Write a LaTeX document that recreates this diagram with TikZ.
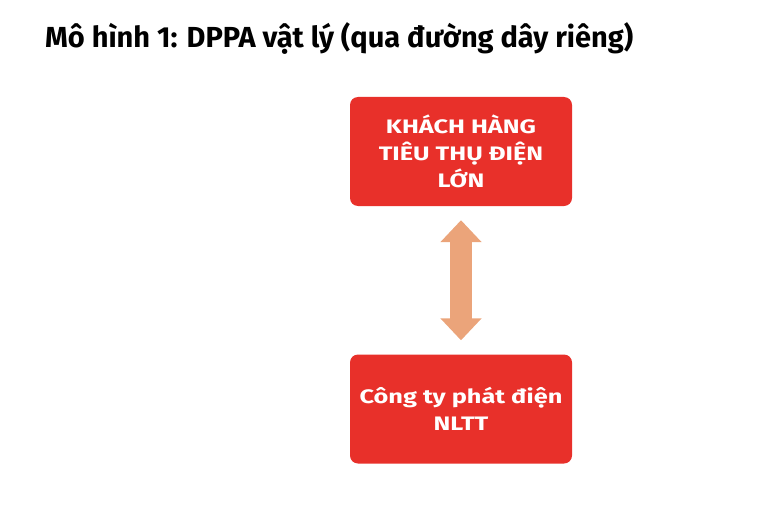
\documentclass[tikz,border=0pt]{standalone}
\usepackage{fontspec}
\setmainfont{Fira Sans}
\newfontfamily\boxfont[FakeStretch=1.3]{Fira Sans}
\usetikzlibrary{arrows.meta}
\definecolor{boxred}{HTML}{E8302A}
\definecolor{arrowpeach}{HTML}{EBA47A}
\tikzset{
  redbox/.style={draw=none, fill=boxred, rounded corners=8pt, minimum width=222pt, minimum height=109pt,
    text=white, font=\boxfont\fontsize{19.5}{27}\selectfont\bfseries, align=center, inner sep=0pt},
  biarrow/.style={draw=arrowpeach, line width=22pt, {Triangle[length=22pt,width=40pt]}-{Triangle[length=22pt,width=40pt]}, shorten <=0pt, shorten >=0pt}
}
\begin{document}
\begin{tikzpicture}[x=1pt,y=-1pt]
  \useasboundingbox (0,0) rectangle (760,516);
  \node[anchor=base west, font=\fontsize{29}{34}\selectfont\bfseries, inner sep=0pt] (title) at (45,48) {Mô hình 1: DPPA vật lý (qua đường dây riêng)};
  \node[redbox] (kh) at (461,151.5) {KHÁCH HÀNG\\TIÊU THỤ ĐIỆN\\LỚN};
  \node[redbox] (ct) at (461,409) {Công ty phát điện\\NLTT};
  \draw[biarrow] ([yshift=-14pt]kh.south) -- ([yshift=14pt]ct.north);
\end{tikzpicture}
\end{document}
